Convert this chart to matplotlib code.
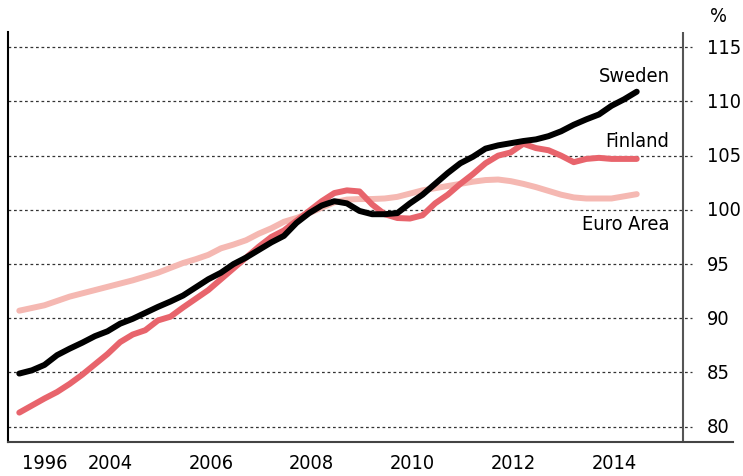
import numpy as np
import matplotlib
matplotlib.use('Agg')
import matplotlib.pyplot as plt

plt.rcParams['font.family'] = ['DejaVu Sans']
plt.rcParams['font.stretch'] = 'condensed'

# quarterly points, from 2002 Q1
quarters = 2002.2 + 0.25 * np.arange(50)

sweden = [84.9, 85.2, 85.7, 86.6, 87.2, 87.75, 88.35, 88.8, 89.5, 89.95,
          90.5, 91.05, 91.55, 92.1, 92.85, 93.6, 94.2, 95.0, 95.6, 96.3,
          97.0, 97.6, 98.8, 99.7, 100.4, 100.8, 100.6, 99.9, 99.6, 99.6,
          99.7, 100.6, 101.4, 102.4, 103.4, 104.3, 104.9, 105.65, 105.95, 106.15,
          106.35, 106.5, 106.8, 107.25, 107.85, 108.35, 108.8, 109.6, 110.2, 110.9]

finland = [81.3, 81.95, 82.6, 83.2, 83.95, 84.8, 85.75, 86.7, 87.8, 88.5,
           88.9, 89.8, 90.15, 91.0, 91.8, 92.6, 93.6, 94.6, 95.6, 96.6,
           97.5, 98.1, 99.0, 99.9, 100.8, 101.55, 101.8, 101.7, 100.5, 99.6,
           99.25, 99.2, 99.5, 100.6, 101.4, 102.4, 103.3, 104.3, 105.0, 105.3,
           106.1, 105.7, 105.5, 105.0, 104.4, 104.7, 104.8, 104.7, 104.7, 104.7]

euro_area = [90.7, 90.95, 91.2, 91.6, 92.0, 92.3, 92.6, 92.9, 93.2, 93.5,
             93.85, 94.2, 94.65, 95.1, 95.45, 95.85, 96.45, 96.8, 97.2, 97.8,
             98.3, 98.9, 99.25, 99.7, 100.2, 100.7, 100.95, 101.0, 101.0, 101.05,
             101.2, 101.5, 101.8, 102.0, 102.2, 102.4, 102.6, 102.75, 102.8, 102.65,
             102.4, 102.1, 101.75, 101.4, 101.15, 101.05, 101.05, 101.05, 101.25, 101.45]

xtick_pos = [2002.7, 2004, 2006, 2008, 2010, 2012, 2014]
xtick_labels = ['1996', '2004', '2006', '2008', '2010', '2012', '2014']
yticks = [80, 85, 90, 95, 100, 105, 110, 115]

fig = plt.figure(figsize=(7.43, 4.77), dpi=100)
ax = fig.add_axes([8 / 743, 1 - 443.3 / 477, 725 / 743, 410 / 477])
ax.set_xlim(2001.976, 2016.36)
ax.set_ylim(78.56, 116.38)

fs = 14.3
right_spine = 2015.37
grid_end = 2015.55

for y in yticks:
    ax.plot([2001.976, grid_end], [y, y], color='#333333', lw=0.9,
            linestyle=(0, (2.2, 2.2)), zorder=1)
    ax.text(2015.84, y, str(y), fontsize=fs, va='center', ha='left')

ax.axvline(right_spine, color='#555555', lw=1.5, zorder=2)

ax.plot(quarters, euro_area, color='#f5b8b2', lw=4.3, solid_capstyle='round', zorder=3)
ax.plot(quarters, finland, color='#e8646c', lw=4.3, solid_capstyle='round', zorder=4)
ax.plot(quarters, sweden, color='black', lw=4.3, solid_capstyle='round', zorder=5)

ax.text(2015.1, 111.9, 'Sweden', fontsize=fs, ha='right', va='baseline')
ax.text(2015.1, 105.9, 'Finland', fontsize=fs, ha='right', va='baseline')
ax.text(2015.1, 98.25, 'Euro Area', fontsize=fs, ha='right', va='baseline')
fig.text(710 / 743, 1 - 17 / 477, '%', fontsize=fs, ha='left', va='center')

ax.spines['top'].set_visible(False)
ax.spines['right'].set_visible(False)
ax.spines['left'].set_color('black')
ax.spines['left'].set_linewidth(1.5)
ax.spines['bottom'].set_color('#444444')
ax.spines['bottom'].set_linewidth(1.5)
ax.set_yticks([])
ax.set_xticks(xtick_pos)
ax.set_xticklabels(xtick_labels, fontsize=fs)
ax.tick_params(axis='x', length=0, pad=8)

fig.savefig('out.png', dpi=100)
